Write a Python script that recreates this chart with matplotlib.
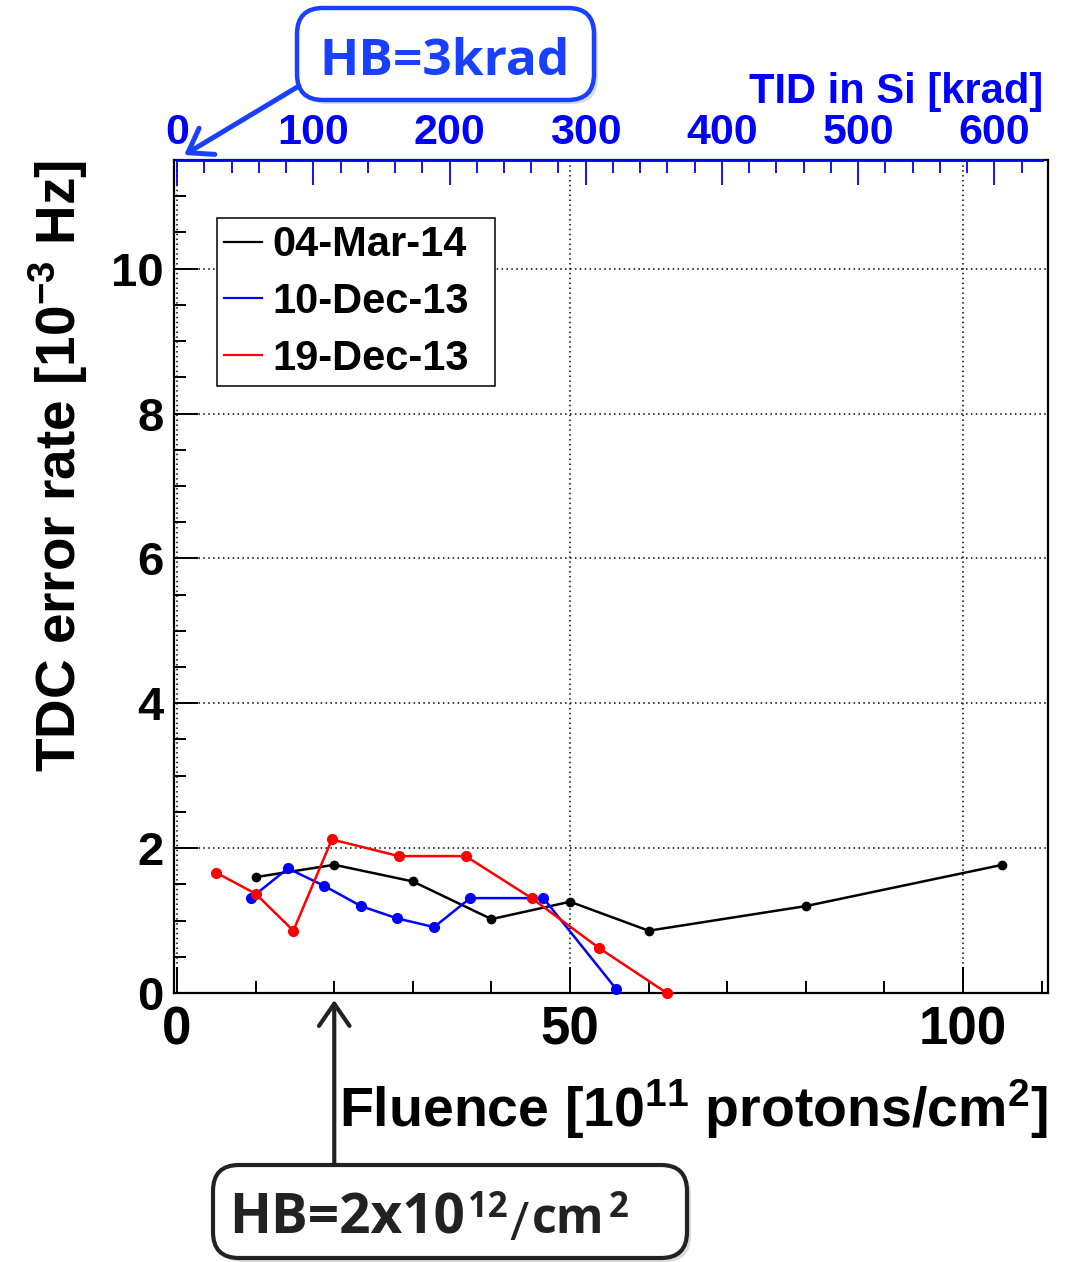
import matplotlib
matplotlib.use('Agg')
import matplotlib.pyplot as plt
from matplotlib.ticker import MultipleLocator, FixedLocator
from matplotlib.patches import FancyBboxPatch, FancyArrowPatch

# ---------------- data ----------------
series_labels = ['04-Mar-14', '10-Dec-13', '19-Dec-13']
series_colors = ['black', 'blue', 'red']

mar14_fluence = [10, 20, 30, 40, 50, 60, 80, 105]
mar14_rate = [1.60, 1.77, 1.54, 1.02, 1.26, 0.86, 1.20, 1.77]

dec10_fluence = [9.4, 14.1, 18.7, 23.4, 28.0, 32.7, 37.3, 46.6, 55.9]
dec10_rate = [1.31, 1.72, 1.48, 1.20, 1.03, 0.91, 1.31, 1.31, 0.05]

dec19_fluence = [5.0, 10.0, 14.8, 19.7, 28.2, 36.7, 45.1, 53.7, 62.3]
dec19_rate = [1.66, 1.37, 0.86, 2.12, 1.89, 1.89, 1.31, 0.62, 0.0]

x_major_ticks = [0, 50, 100]
y_major_ticks = [0, 2, 4, 6, 8, 10]
tid_major_ticks = [0, 100, 200, 300, 400, 500, 600]

krad_per_fluence = 5.77      # TID [krad] per 1e11 protons/cm2
tid_axis_end_fluence = 110   # top axis drawn up to this fluence
hb_fluence = 20              # HB = 2x10^12 /cm2
hb_krad = 3                  # HB = 3 krad

xlim = (-0.45, 110.8)
ylim = (0, 11.5)

# ---------------- style ----------------
plt.rcParams['font.family'] = ['Liberation Sans', 'DejaVu Sans']
plt.rcParams['font.weight'] = 'bold'
plt.rcParams['axes.labelweight'] = 'bold'
plt.rcParams['mathtext.fontset'] = 'custom'
plt.rcParams['mathtext.rm'] = 'Liberation Sans:bold'
plt.rcParams['mathtext.bf'] = 'Liberation Sans:bold'
plt.rcParams['mathtext.it'] = 'Liberation Sans:bold'
plt.rcParams['mathtext.default'] = 'rm'

W, H = 1067, 1262
fig = plt.figure(figsize=(W / 100, H / 100), dpi=100)
L, R, T, B = 173.5, 1048, 160, 993
ax = fig.add_axes([L / W, (H - B) / H, (R - L) / W, (B - T) / H])

xs = [mar14_fluence, dec10_fluence, dec19_fluence]
ys = [mar14_rate, dec10_rate, dec19_rate]
msizes = [6, 7, 7]
for x, y, c, lab, ms in zip(xs, ys, series_colors, series_labels, msizes):
    ax.plot(x, y, color=c, lw=1.8, marker='o', ms=ms, mec=c, mfc=c, label=lab,
            clip_on=False, zorder=3)

ax.set_xlim(*xlim)
ax.set_ylim(*ylim)
ax.xaxis.set_major_locator(FixedLocator(x_major_ticks))
ax.xaxis.set_minor_locator(MultipleLocator(10))
ax.yaxis.set_major_locator(FixedLocator(y_major_ticks))
ax.yaxis.set_minor_locator(MultipleLocator(0.5))
ax.tick_params(axis='x', which='major', direction='in', length=19, width=1.4,
               top=False, labelsize=38, pad=9)
ax.tick_params(axis='x', which='minor', direction='in', length=8.6, width=1.4, top=False)
ax.tick_params(axis='y', which='major', direction='in', length=17, width=1.4,
               right=False, labelsize=34, pad=7)
ax.tick_params(axis='y', which='minor', direction='in', length=8.6, width=1.4, right=False)
for s in ax.spines.values():
    s.set_linewidth(1.6)
ax.grid(True, which='major', color='black', lw=1.1, ls=(0, (1, 2.2)))

ax.set_xlabel(r'Fluence [10$^{11}$ protons/cm$^{2}$]', fontsize=40, fontweight='bold')
ax.xaxis.set_label_coords(1.0, -0.161)
ax.xaxis.label.set_ha('right')
ax.xaxis.label.set_va('baseline')

ax.set_ylabel(r'TDC error rate [10$^{-3}$ Hz]', fontsize=39.5, fontweight='bold')
ax.yaxis.set_label_coords(-0.111, 1.0)
ax.yaxis.label.set_ha('right')
ax.yaxis.label.set_va('baseline')

leg = ax.legend(loc='upper left', bbox_to_anchor=(0.0497, 0.730, 0.318, 0.2),
                mode='expand', prop={'weight': 'bold', 'size': 30},
                handlelength=0.9, handletextpad=0.25, borderpad=0.17,
                labelspacing=0.4, borderaxespad=0, fancybox=False,
                framealpha=1, edgecolor='black')
leg.get_frame().set_linewidth(1.1)
for h in leg.legend_handles:
    h.set_marker('')
    h.set_linewidth(1.6)

# ---------------- top TID axis ----------------
blue = '#0000ff'
ax2 = ax.twiny()
ax2.set_xlim(xlim[0] * krad_per_fluence, xlim[1] * krad_per_fluence)
for k in ['left', 'right', 'bottom']:
    ax2.spines[k].set_visible(False)
ax2.spines['top'].set_color(blue)
ax2.spines['top'].set_linewidth(2)
ax2.spines['top'].set_bounds(0, tid_axis_end_fluence * krad_per_fluence)
ax2.xaxis.set_major_locator(FixedLocator(tid_major_ticks))
ax2.xaxis.set_minor_locator(MultipleLocator(20))
ax2.tick_params(axis='x', which='major', direction='in', length=18, width=1.3,
                color=blue, labelcolor=blue, labelsize=31, pad=5)
ax2.tick_params(axis='x', which='minor', direction='in', length=9, width=1.3, color=blue)
ax2.set_xlabel('TID in Si [krad]', fontsize=30, color=blue, fontweight='bold')
ax2.xaxis.set_label_coords(0.994, 1.0684)
ax2.xaxis.label.set_ha('right')
ax2.xaxis.label.set_va('baseline')

# ---------------- annotations (pixel overlay) ----------------
ov = fig.add_axes([0, 0, 1, 1], zorder=10)
ov.set_xlim(0, W)
ov.set_ylim(H, 0)
ov.axis('off')
ov.patch.set_alpha(0)

def to_ov(disp):
    return disp[0], H - disp[1]

box_blue = '#1a40ff'
box_dark = '#222222'

def rbox(x0, y0, x1, y1, ec, lw):
    sh = FancyBboxPatch((x0 + 4, y0 + 4), x1 - x0, y1 - y0,
                        boxstyle='round,pad=0,rounding_size=26',
                        fc='#999999', ec='none', alpha=0.35, transform=ov.transData)
    ov.add_patch(sh)
    bx = FancyBboxPatch((x0, y0), x1 - x0, y1 - y0,
                        boxstyle='round,pad=0,rounding_size=26',
                        fc='white', ec=ec, lw=lw, transform=ov.transData)
    ov.add_patch(bx)

afont = dict(family='Open Sans', weight='bold')

# top annotation
rbox(297, 8, 594, 100, box_blue, 3.2)
ov.text(445, 75, 'HB=3krad', ha='center', va='baseline', fontsize=37,
        color=box_blue, **afont)
tx, ty = to_ov(ax2.get_xaxis_transform().transform((hb_krad, 1.0)))
ov.add_patch(FancyArrowPatch((299, 86), (tx + 3, ty - 5),
                             arrowstyle='->,head_length=0.8,head_width=0.55',
                             mutation_scale=20, lw=3.6, color=box_blue,
                             shrinkA=0, shrinkB=0, transform=ov.transData))

# bottom annotation
rbox(213, 1165, 687, 1258, box_dark, 3.0)
ov.text(229, 1233, 'HB=2x10', ha='left', va='baseline', fontsize=39.5, color=box_dark, **afont)
ov.text(468, 1217, '12', ha='left', va='baseline', fontsize=25, color=box_dark, **afont)
ov.text(509, 1240, '/', ha='left', va='baseline', fontsize=38, color=box_dark,
        family='Open Sans', weight='normal')
ov.text(532, 1233, 'cm', ha='left', va='baseline', fontsize=35, color=box_dark, **afont)
ov.text(609, 1217, '2', ha='left', va='baseline', fontsize=25, color=box_dark, **afont)
bx_, by_ = to_ov(ax.transData.transform((hb_fluence, 0)))
ov.add_patch(FancyArrowPatch((bx_, 1165), (bx_, by_ + 7),
                             arrowstyle='->,head_length=0.8,head_width=0.55',
                             mutation_scale=20, lw=3.0, color=box_dark,
                             shrinkA=0, shrinkB=0, transform=ov.transData))

fig.savefig('out.png', dpi=100)
